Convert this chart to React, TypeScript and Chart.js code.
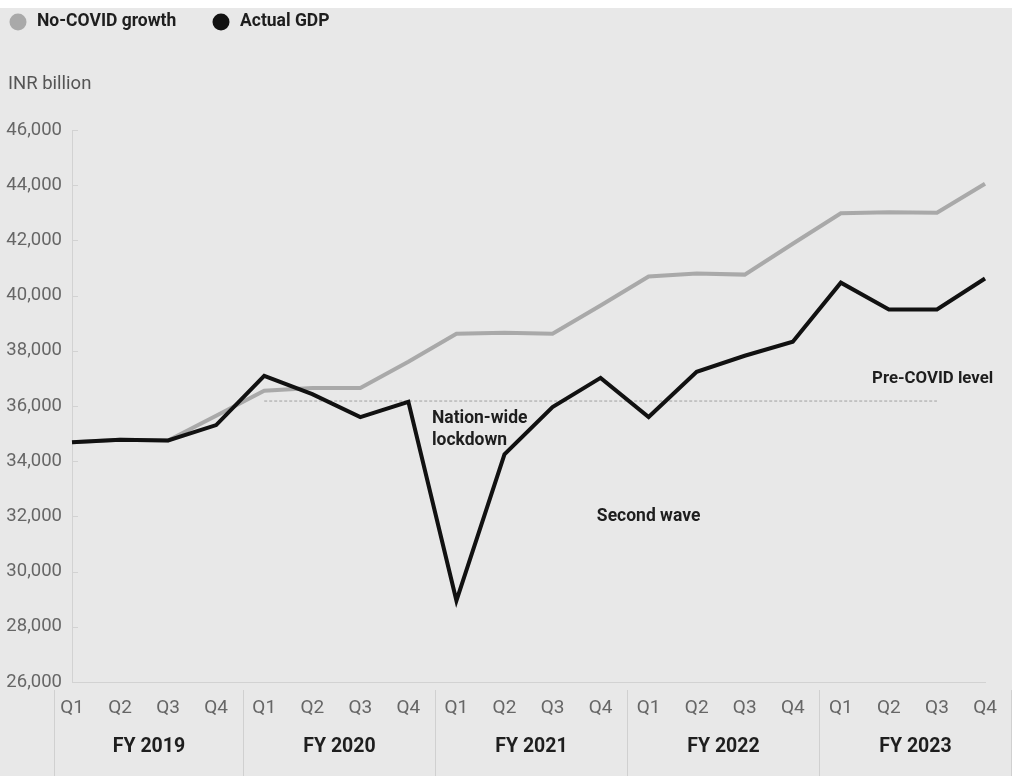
import React, { useEffect, useRef } from "react";
import { Chart, registerables } from "chart.js";

Chart.register(...registerables);

const quarters = [
  "Q1", "Q2", "Q3", "Q4",
  "Q1", "Q2", "Q3", "Q4",
  "Q1", "Q2", "Q3", "Q4",
  "Q1", "Q2", "Q3", "Q4",
  "Q1", "Q2", "Q3", "Q4",
];
const fiscalYears = ["FY 2019", "FY 2020", "FY 2021", "FY 2022", "FY 2023"];

const noCovidGrowth = [
  34690, 34780, 34750, 35650,
  36550, 36650, 36650, 37600,
  38620, 38650, 38620, 39640,
  40690, 40800, 40760, 41880,
  42980, 43020, 43000, 44050,
];
const actualGdp = [
  34690, 34780, 34750, 35310,
  37090, 36430, 35600, 36150,
  28950, 34250, 35960, 37020,
  35600, 37240, 37820, 38330,
  40470, 39500, 39500, 40620,
];
const preCovidLevel = [
  null, null, null, null,
  36180, 36180, 36180, 36180,
  36180, 36180, 36180, 36180,
  36180, 36180, 36180, 36180,
  36180, 36180, 36180, null,
];

const yMin = 26000;
const yMax = 46000;
const yStep = 2000;

const legendItems = [
  { label: "No-COVID growth", color: "#a9a9a9", x: 18 },
  { label: "Actual GDP", color: "#111111", x: 221 },
];
const unitLabel = "INR billion";
const annotations = [
  { lines: ["Nation-wide", "lockdown"], x: 7.49, y: [35560, 34730], align: "left" },
  { lines: ["Second wave"], x: 12.0, y: [32000], align: "center" },
  { lines: ["Pre-COVID level"], x: 19.17, y: [36980], align: "right" },
];

const FONT = "Roboto, 'Noto Sans', sans-serif";

const decorPlugin = {
  id: "decor",
  beforeDatasetsDraw(chart: any) {
    const ctx = chart.ctx;
    const y = chart.scales.y;
    const x = chart.scales.x;
    ctx.save();
    ctx.strokeStyle = "#d2d2d2";
    ctx.lineWidth = 1;
    y.ticks.forEach((t: any) => {
      const py = Math.round(y.getPixelForValue(t.value)) + 0.5;
      ctx.beginPath();
      ctx.moveTo(x.left, py);
      ctx.lineTo(x.left + 6, py);
      ctx.stroke();
    });
    ctx.restore();
  },
  afterDraw(chart: any) {
    const ctx = chart.ctx;
    const x = chart.scales.x;
    const y = chart.scales.y;
    ctx.save();

    // group separators and fiscal-year labels
    ctx.strokeStyle = "#d0d0d0";
    ctx.lineWidth = 1;
    const bounds: number[] = [];
    for (let g = 0; g <= fiscalYears.length; g++) {
      let v = g * 4 - 0.45;
      if (g === 0) v = -0.38;
      bounds.push(Math.round(x.getPixelForValue(v)) + 0.5);
    }
    bounds.forEach((bx) => {
      ctx.beginPath();
      ctx.moveTo(bx, x.bottom - 86);
      ctx.lineTo(bx, chart.height);
      ctx.stroke();
    });
    ctx.fillStyle = "#1e1e1e";
    ctx.font = `bold 19.5px ${FONT}`;
    ctx.textAlign = "center";
    ctx.textBaseline = "middle";
    fiscalYears.forEach((fy, g) => {
      const cx = (bounds[g] + bounds[g + 1]) / 2;
      ctx.fillText(fy, cx, 739);
    });

    // legend
    ctx.font = `bold 17.5px ${FONT}`;
    ctx.textAlign = "left";
    legendItems.forEach((it) => {
      ctx.fillStyle = it.color;
      ctx.beginPath();
      ctx.arc(it.x, 14, 8.5, 0, Math.PI * 2);
      ctx.fill();
      ctx.fillStyle = "#1e1e1e";
      ctx.fillText(it.label, it.x + 19, 14);
    });

    // unit label
    ctx.fillStyle = "#555";
    ctx.font = `18.5px ${FONT}`;
    ctx.fillText(unitLabel, 8, 76);

    // annotations
    ctx.fillStyle = "#1e1e1e";
    annotations.forEach((a) => {
      ctx.font = a.align === "right" ? `bold 16.8px ${FONT}` : `bold 17.5px ${FONT}`;
      ctx.textAlign = a.align as CanvasTextAlign;
      a.lines.forEach((ln, i) => {
        ctx.fillText(ln, x.getPixelForValue(a.x), y.getPixelForValue(a.y[i]));
      });
    });
    ctx.restore();
  },
};

export default function App() {
  const ref = useRef<HTMLCanvasElement | null>(null);
  useEffect(() => {
    if (!ref.current) return;
    const chart = new Chart(ref.current, {
      type: "line",
      data: {
        labels: quarters,
        datasets: [
          {
            label: "Actual GDP",
            data: actualGdp,
            borderColor: "#111111",
            borderWidth: 4,
            pointRadius: 0,
            tension: 0,
            order: 1,
          },
          {
            label: "No-COVID growth",
            data: noCovidGrowth,
            borderColor: "#a9a9a9",
            borderWidth: 4,
            pointRadius: 0,
            tension: 0,
            order: 2,
          },
          {
            label: "Pre-COVID level",
            data: preCovidLevel as any,
            borderColor: "#a0a0a0",
            borderWidth: 1,
            borderDash: [3, 2],
            pointRadius: 0,
            tension: 0,
            order: 3,
            spanGaps: false,
          },
        ],
      },
      options: {
        animation: false,
        responsive: false,
        devicePixelRatio: 1,
        layout: { padding: { top: 122, right: 27, left: 0, bottom: 0 } },
        plugins: {
          legend: { display: false },
          tooltip: { enabled: false },
        },
        scales: {
          x: {
            type: "category",
            offset: false,
            grid: { display: false, drawTicks: false },
            border: { display: true, color: "#d2d2d2", width: 1 },
            ticks: {
              font: { family: FONT, size: 19 },
              color: "#666",
              padding: 15,
              maxRotation: 0,
              autoSkip: false,
            },
            afterFit: (s: any) => {
              s.height = 94;
            },
          },
          y: {
            min: yMin,
            max: yMax,
            grid: { display: false, drawTicks: false },
            border: { display: true, color: "#d2d2d2", width: 1 },
            ticks: {
              stepSize: yStep,
              font: { family: FONT, size: 18.5 },
              color: "#666",
              padding: 10,
              callback: (v: any) => Number(v).toLocaleString("en-US"),
            },
            afterFit: (s: any) => {
              s.width = 72;
            },
          },
        },
      },
      plugins: [decorPlugin],
    });
    return () => chart.destroy();
  }, []);
  return (
    <div
      style={{
        position: "absolute",
        left: 0,
        top: 8,
        width: 1012,
        height: 768,
        background: "#e8e8e8",
      }}
    >
      <canvas ref={ref} width={1012} height={768} style={{ display: "block" }} />
    </div>
  );
}
